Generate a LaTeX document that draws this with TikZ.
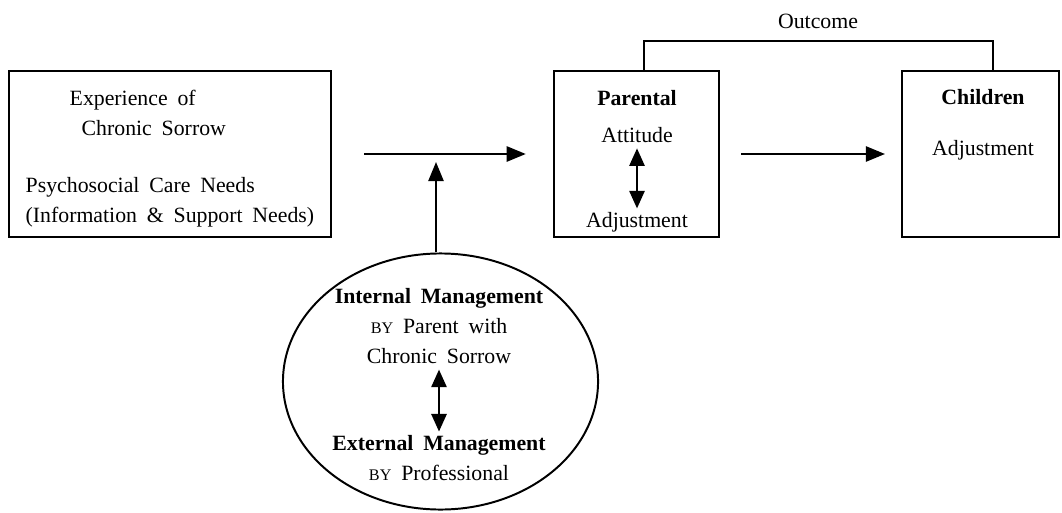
\documentclass[tikz,border=0pt]{standalone}
\usepackage{fontspec}
\setmainfont{Liberation Serif}[WordSpace=1.8]
\usepackage{tikz}
\usetikzlibrary{shapes.geometric, arrows.meta, positioning, calc}
\newcommand{\byword}{{\fontsize{11.5}{11.5}\selectfont BY}}

\begin{document}
\begin{tikzpicture}[
        x=0.025cm, y=-0.025cm,
        box/.style={rectangle, draw, line width=1.4pt, minimum height=4.15cm, inner sep=0pt},
        ellip/.style={ellipse, draw, line width=1.4pt, minimum width=7.875cm, minimum height=6.4cm, inner sep=0pt},
        txt/.style={font=\fontsize{15.5}{21.5}\selectfont, align=center, inner sep=1pt},
        conn/.style={line width=1.4pt},
        arr/.style={-{Triangle[length=0.48cm, width=0.38cm]}, line width=1.6pt},
        dbl/.style={{Triangle[length=0.44cm, width=0.38cm]}-{Triangle[length=0.44cm, width=0.38cm]}, line width=1.6pt}
    ]
        \useasboundingbox (0,0) rectangle (1062,512);

        % boxes
        \node[box, minimum width=8.05cm] (exp) at (170,154) {};
        \node[box, minimum width=4.125cm] (parental) at (636.5,154) {};
        \node[box, minimum width=3.925cm] (children) at (980.5,154) {};
        \node[ellip] (mgmt) at (440.5,381.5) {};

        % left box text
        \node[txt, anchor=west, align=left] (exper) at (68,113) {Experience of\\\hspace*{0.3cm}Chronic Sorrow};
        \node[txt, anchor=west, align=left] (needs) at (24,202) {Psychosocial Care Needs\\(Information \& Support Needs)};

        % parental box text
        \node[txt] (ptitle) at (637,98) {\textbf{Parental}};
        \node[txt] (pattit) at (637,135) {Attitude};
        \node[txt] (padj) at (637,222) {Adjustment};
        \draw[dbl, shorten <=0.1cm, shorten >=0.05cm] (pattit) -- (padj);

        % children box text
        \node[txt] (ctitle) at (983,97) {\textbf{Children}};
        \node[txt] (cadj) at (983,150) {Adjustment};

        % management text
        \node[txt] (intl) at (439,326) {\textbf{Internal Management}\\\byword{} Parent with\\Chronic Sorrow};
        \node[txt] (extl) at (439,458) {\textbf{External Management}\\\byword{} Professional};
        \draw[dbl, shorten <=0.1cm, shorten >=0.05cm] (intl) -- (extl);

        % outcome
        \node[txt] (outcome) at (818,21) {Outcome};
        \draw[conn] ($(parental.north)+(7.5,0)$) -- ++(0,-29) -| ($(children.north)+(12.5,0)$);

        % arrows
        \coordinate (join) at (436,152);
        \draw[arr, shorten <=0.8cm, shorten >=0.68cm] (exp) -- (parental);
        \draw[arr, shorten >=0.25cm] (mgmt.north -| join) -- (join);
        \draw[arr, shorten <=0.525cm, shorten >=0.4cm] (parental) -- (children);
    \end{tikzpicture}
\end{document}
